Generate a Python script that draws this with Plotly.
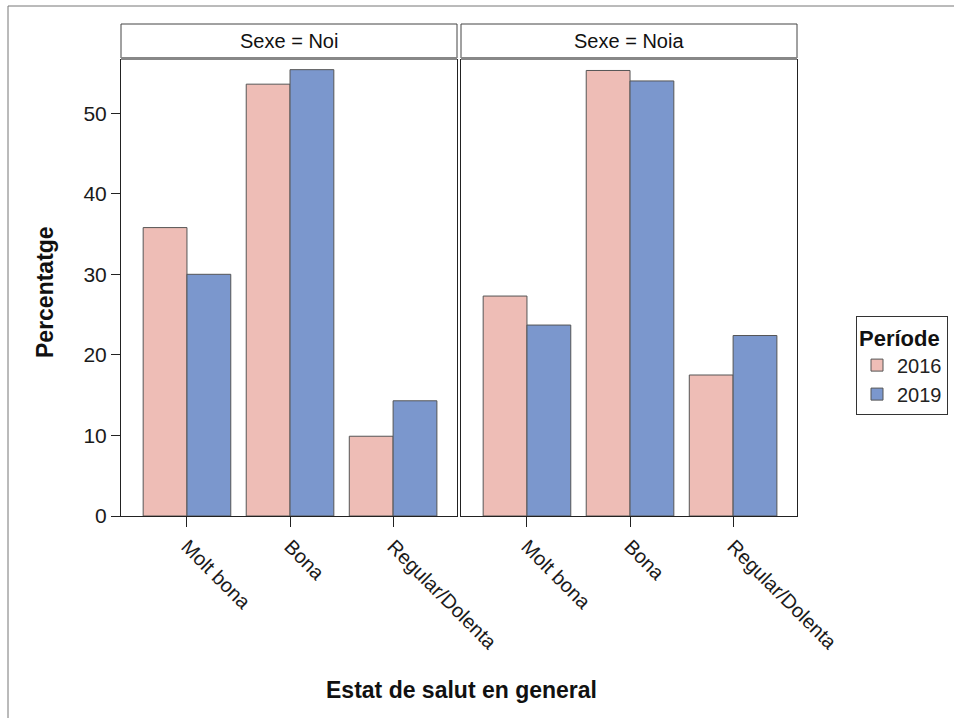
import plotly.graph_objects as go

categories = ["Molt bona", "Bona", "Regular/Dolenta"]
periods = ["2016", "2019"]
noi_2016 = [35.8, 53.6, 9.9]
noi_2019 = [30.0, 55.4, 14.3]
noia_2016 = [27.3, 55.3, 17.5]
noia_2019 = [23.7, 54.0, 22.4]
panels = ["Sexe = Noi", "Sexe = Noia"]
yticks = [0, 10, 20, 30, 40, 50]

W, H = 954, 718
colors = {"2016": "#EEBDB6", "2019": "#7B97CD"}
FONT = "Liberation Sans, Arial, sans-serif"

def px(x):
    return x / W

def py(y):
    return (H - y) / H

fig = go.Figure()
data = {
    ("x", "2016"): noi_2016, ("x", "2019"): noi_2019,
    ("x2", "2016"): noia_2016, ("x2", "2019"): noia_2019,
}
for xa, ya in [("x", "y"), ("x2", "y2")]:
    for p in periods:
        fig.add_trace(go.Bar(
            x=categories, y=data[(xa, p)], name=p, xaxis=xa, yaxis=ya,
            marker=dict(color=colors[p], line=dict(color="#555555", width=1)),
            showlegend=(xa == "x"), legendgroup=p, offsetgroup=p,
        ))

xdom1 = [px(121), px(457)]
xdom2 = [px(461), px(797)]
ydom = [py(516), py(60)]
xr = [-0.64, 2.62]
yr = [0, 56.6]

common_x = dict(range=xr, showline=True, mirror=True, linecolor="#222222", linewidth=1,
                ticks="outside", ticklen=10, tickcolor="#222222", tickangle=45,
                tickfont=dict(family=FONT, size=20, color="#1a1a1a"), showgrid=False,
                zeroline=False, fixedrange=True, automargin=False)
fig.update_layout(
    width=W, height=H, margin=dict(l=0, r=0, t=0, b=0, pad=0, autoexpand=False),
    paper_bgcolor="white", plot_bgcolor="white",
    barmode="group", bargap=0.15, bargroupgap=0,
    xaxis=dict(domain=xdom1, anchor="y", **common_x),
    xaxis2=dict(domain=xdom2, anchor="y2", **common_x),
    yaxis=dict(domain=ydom, anchor="x", range=yr, tickvals=yticks, showline=True, mirror=True,
               linecolor="#222222", linewidth=1, ticks="outside", ticklen=9, tickcolor="#222222",
               tickfont=dict(family=FONT, size=21, color="#1a1a1a"), showgrid=False, zeroline=False,
               automargin=False),
    yaxis2=dict(domain=ydom, anchor="x2", range=yr, showline=True, mirror=True, linecolor="#222222",
                linewidth=1, showticklabels=False, ticks="", showgrid=False, zeroline=False,
                automargin=False),
    legend=dict(title=dict(text="<b>Període</b>", font=dict(family=FONT, size=22, color="#111111")),
                font=dict(family=FONT, size=20, color="#222222"),
                x=px(856), y=py(316), xanchor="left", yanchor="top",
                bordercolor="#333333", borderwidth=1, bgcolor="white",
                itemwidth=30, tracegroupgap=0),
)

shapes = []
annotations = []
# Outer border
shapes.append(dict(type="rect", xref="paper", yref="paper", x0=px(8), x1=px(W + 20), y0=py(H + 20), y1=py(6),
                   line=dict(color="#777777", width=1), fillcolor="rgba(0,0,0,0)", layer="below"))
for dom, label in zip([xdom1, xdom2], panels):
    shapes.append(dict(type="rect", xref="paper", yref="paper", x0=dom[0], x1=dom[1], y0=py(58), y1=py(24),
                       line=dict(color="#444444", width=1), fillcolor="white"))
    shapes.append(dict(type="line", xref="paper", yref="paper", x0=dom[0], x1=dom[1], y0=py(58.5), y1=py(58.5),
                       line=dict(color="#888888", width=3)))
    annotations.append(dict(text=label, xref="paper", yref="paper", x=(dom[0] + dom[1]) / 2, y=py(41),
                            xanchor="center", yanchor="middle", showarrow=False,
                            font=dict(family=FONT, size=20, color="#111111")))
annotations.append(dict(text="<b>Estat de salut en general</b>", xref="paper", yref="paper",
                        x=px(461), y=py(690), xanchor="center", yanchor="middle", showarrow=False,
                        font=dict(family=FONT, size=23, color="#111111")))
annotations.append(dict(text="<b>Percentatge</b>", xref="paper", yref="paper", textangle=-90,
                        x=px(45), y=py(292), xanchor="center", yanchor="middle", showarrow=False,
                        font=dict(family=FONT, size=23, color="#111111")))
fig.update_layout(shapes=shapes, annotations=annotations)

fig.write_html("out.html", config={"displayModeBar": False},
               post_script="document.body.style.margin='0';")
